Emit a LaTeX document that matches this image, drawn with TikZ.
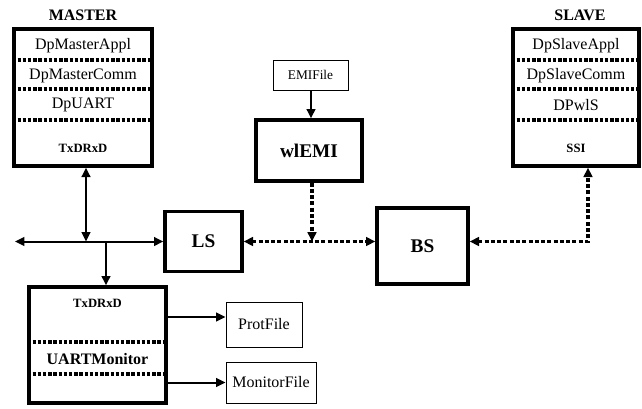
\documentclass[tikz,border=0pt]{standalone}
\usepackage{fontspec}
\setmainfont{Liberation Serif}
\usetikzlibrary{arrows.meta}

\begin{document}
\begin{tikzpicture}[x=0.75pt, y=-0.75pt, >={Triangle[length=7pt, width=6.5pt]}]
  \tikzset{
    block/.style={draw, line width=2.5pt, rectangle, inner sep=0pt},
    file/.style={draw, line width=0.7pt, rectangle, inner sep=0pt},
    layer/.style={font=\fontsize{12}{14}\selectfont},
    port/.style={font=\bfseries\fontsize{9.5}{11}\selectfont},
    big/.style={font=\bfseries\fontsize{14.5}{17}\selectfont},
    sep/.style={line width=2.3pt, dash pattern=on 2.6pt off 1.3pt},
    wire/.style={line width=1.5pt},
    dots/.style={line width=2.8pt, dash pattern=on 3pt off 1.7pt},
  }
  \useasboundingbox (0,0) rectangle (642,408);

  % stacks
  \node [block, minimum width=103.5pt, minimum height=102.75pt] (master) at (83,97.5) {};
  \node [block, minimum width=94.5pt, minimum height=102.75pt] (slave) at (576,97.5) {};
  \node [layer, font=\bfseries\fontsize{12}{14}\selectfont] (master-t) at (83,15) {MASTER};
  \node [layer, font=\bfseries\fontsize{12}{14}\selectfont] (slave-t) at (580,15) {SLAVE};

  \foreach \y/\m/\s [count=\i] in {46/DpMasterAppl/DpSlaveAppl, 76/DpMasterComm/DpSlaveComm, 105/DpUART/DPwlS} {
    \node [layer] (m-\i) at (83,\y) {\m};
    \node [layer] (s-\i) at (576,\y) {\s};
  }
  \node [port] (m-4) at (83,148) {TxDRxD};
  \node [port] (s-4) at (576,148) {SSI};

  \foreach \y in {60, 89, 120} {
    \draw [sep] (master.west |- 0,\y) -- (master.east |- 0,\y);
    \draw [sep] (slave.west |- 0,\y) -- (slave.east |- 0,\y);
  }

  % monitor
  \node [block, minimum width=102.75pt, minimum height=87pt] (monitor) at (97.5,345) {};
  \node [port] (mon-1) at (97.5,303) {TxDRxD};
  \node [layer, font=\bfseries\fontsize{12}{14}\selectfont] (mon-2) at (97.5,359) {UARTMonitor};
  \foreach \y in {342, 374} {
    \draw [sep] (monitor.west |- 0,\y) -- (monitor.east |- 0,\y);
  }

  % stations and files
  \node [block, big, minimum width=57.75pt, minimum height=45pt] (ls) at (203.5,241.5) {LS};
  \node [block, big, minimum width=68.25pt, minimum height=57pt] (bs) at (422.5,246) {BS};
  \node [block, big, minimum width=79.5pt, minimum height=45.75pt] (wlemi) at (309,150.5) {wlEMI};
  \node [file, font=\fontsize{10}{12}\selectfont, minimum width=56.25pt, minimum height=22.5pt] (emifile) at (310.5,75) {EMIFile};
  \node [file, layer, minimum width=57pt, minimum height=33.75pt] (prot) at (264,324.5) {ProtFile};
  \node [file, layer, minimum width=67.5pt, minimum height=30.75pt] (monfile) at (271,382.5) {MonitorFile};

  \coordinate (bus) at (15,241.5);
  \coordinate (tap) at (86,241.5);
  \coordinate (tap2) at (106,241.5);
  \coordinate (join) at (312,241.5);
  \coordinate (bend) at (588,241.5);

  % Edges
  \draw [wire, <->] (bus) -- (ls.west);
  \draw [wire, <->] (master.south -| tap) -- (tap);
  \draw [wire, ->] (tap2) -- (monitor.north -| tap2);
  \draw [wire, ->] (monitor.east |- 0,317) -- (prot.west |- 0,317);
  \draw [wire, ->] (monitor.east |- monfile.west) -- (monfile.west);
  \draw [wire, ->] (emifile.south -| 311,0) -- (wlemi.north -| 311,0);

  \draw [dots, ->] (wlemi.south -| join) -- (join);
  \draw [dots, <->] (ls.east) -- (bs.west |- ls.east);
  \draw [dots, <->] (bs.east |- bend) -- (bend) -- (slave.south -| bend);

\end{tikzpicture}
\end{document}
